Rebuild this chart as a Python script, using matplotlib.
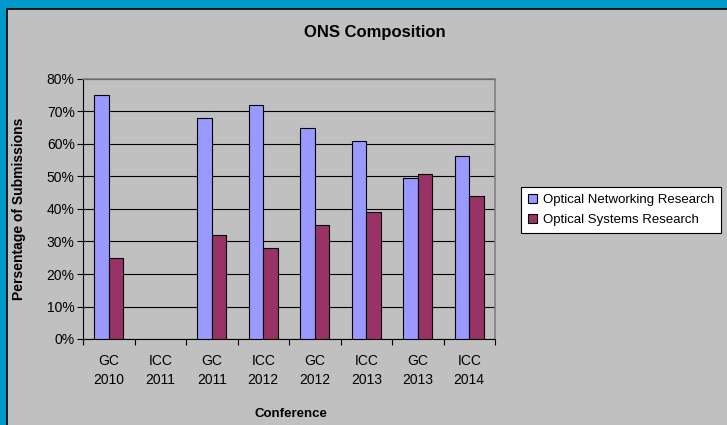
import numpy as np
import matplotlib.pyplot as plt
from matplotlib.patches import Rectangle
from matplotlib.ticker import FuncFormatter

plt.rcParams['font.family'] = ['Liberation Sans', 'DejaVu Sans']

conferencias = ["GC\n2010", "ICC\n2011", "GC\n2011", "ICC\n2012",
                "GC\n2012", "ICC\n2013", "GC\n2013", "ICC\n2014"]
networking = [75, np.nan, 68, 72, 65, 61, 49.4, 56.2]
systems = [25, np.nan, 32, 28, 35, 39, 50.9, 44.1]

azul = "#9999FF"
roxo = "#993366"
cinza = "#C0C0C0"

fig = plt.figure(figsize=(7.27, 4.25), dpi=100)
fig.patch.set_facecolor("#0099CC")
fig.patches.append(Rectangle((7 / 727, -0.01), 1, 1.01 - 9 / 425, transform=fig.transFigure,
                             facecolor=cinza, edgecolor="black", linewidth=1.2, zorder=-5))

ax = fig.add_axes([83 / 727, 86 / 425, 412 / 727, 260 / 425])
ax.set_facecolor(cinza)

x = np.arange(len(conferencias))
w = 0.286
ax.bar(x - w / 2, networking, w, color=azul, edgecolor="black", linewidth=0.8,
       label="Optical Networking Research", zorder=3)
ax.bar(x + w / 2, systems, w, color=roxo, edgecolor="black", linewidth=0.8,
       label="Optical Systems Research", zorder=3)

ax.set_xlim(-0.5, len(conferencias) - 0.5)
ax.set_ylim(0, 80)
ax.set_yticks(range(0, 81, 10))
ax.yaxis.set_major_formatter(FuncFormatter(lambda v, _: f"{int(v)}%"))
ax.set_xticks(x)
ax.set_xticklabels(conferencias, fontsize=10, linespacing=1.4)
ax.set_xticks(np.arange(-0.5, len(conferencias)), minor=True)
ax.tick_params(axis="x", which="major", length=0, pad=11)
ax.tick_params(axis="x", which="minor", length=4, width=0.8, direction="out")
ax.tick_params(axis="y", labelsize=10, length=4, width=0.8, pad=2)

ax.grid(axis="y", color="black", linewidth=0.8, zorder=1)
for lado in ["top", "right"]:
    ax.spines[lado].set_color("#808080")
    ax.spines[lado].set_linewidth(1.2)
ax.spines["left"].set_color("black")
ax.spines["bottom"].set_color("black")

ax.set_ylabel("Persentage of Submissions", fontsize=10, fontweight="bold", labelpad=15)
fig.text(291 / 727, 1 - 414 / 425, "Conference", ha="center", va="center",
         fontsize=9.5, fontweight="bold")

fig.text(375 / 727, 1 - 33 / 425, "ONS Composition", ha="center", va="center",
         fontsize=12, fontweight="bold")

leg = fig.legend(loc="center", bbox_to_anchor=(621 / 727, 1 - 210 / 425), fontsize=9.5,
                 frameon=True, fancybox=False, edgecolor="black", framealpha=1,
                 handlelength=0.7, handleheight=0.7, handletextpad=0.4,
                 borderpad=0.5, labelspacing=0.6)
leg.get_frame().set_linewidth(0.8)

fig.savefig("out.png", dpi=100, facecolor=fig.get_facecolor())
